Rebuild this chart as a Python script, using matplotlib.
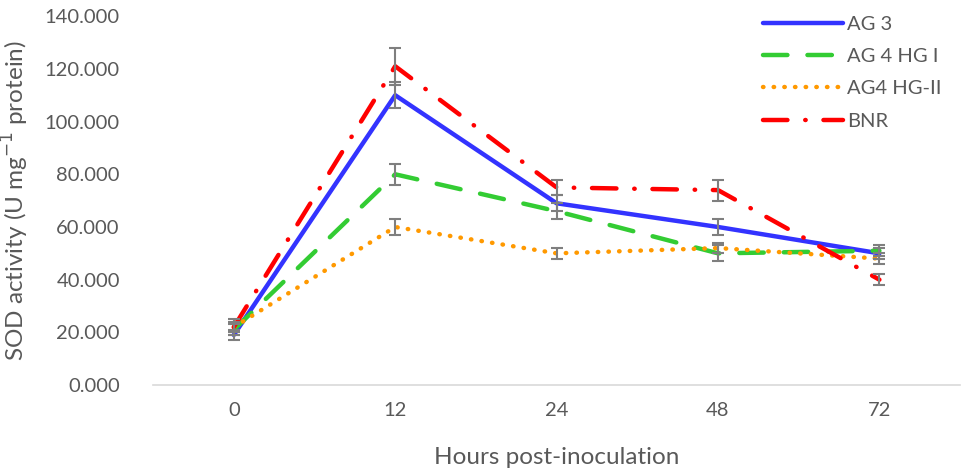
import matplotlib
matplotlib.use("Agg")
import matplotlib.pyplot as plt
from matplotlib.ticker import FormatStrFormatter

plt.rcParams.update({"font.family": ["Lato", "DejaVu Sans"]})

hours = ["0", "12", "24", "48", "72"]
ag3 = [19, 110, 69, 60, 50]
ag3_err = [2, 5, 3, 3, 2]
ag4_hg1 = [21, 80, 66, 50, 51]
ag4_hg1_err = [2, 4, 3, 3, 2]
ag4_hg2 = [22, 60, 50, 52, 48]
ag4_hg2_err = [2, 3, 2, 2, 2]
bnr = [22, 121, 75, 74, 40]
bnr_err = [3, 7, 3, 4, 2]

TEXT = "#595959"

fig = plt.figure(figsize=(9.63, 4.76), dpi=100)
ax = fig.add_axes([0.159, 0.191, 0.838, 0.775])
x = list(range(len(hours)))

series = [
    (ag3, ag3_err, "AG 3", "#3333FF", "-"),
    (ag4_hg1, ag4_hg1_err, "AG 4 HG I", "#33CC33", (0, (5.5, 4.5))),
    (ag4_hg2, ag4_hg2_err, "AG4 HG-II", "#FF9900", (0, (0.1, 2.3))),
    (bnr, bnr_err, "BNR", "#FF0000", (0, (5.5, 4, 0.1, 4))),
]
for vals, err, label, color, ls in series:
    ax.plot(x, vals, color=color, linestyle=ls, lw=3.2, label=label,
            solid_capstyle="round", dash_capstyle="round", zorder=2)
    ax.errorbar(x, vals, yerr=err, fmt="none", ecolor="#7F7F7F",
                elinewidth=1.5, capsize=4, capthick=1.5, zorder=3)

ax.set_xlim(-0.5, 4.5)
ax.set_ylim(0, 140)
ax.set_yticks(range(0, 141, 20))
ax.yaxis.set_major_formatter(FormatStrFormatter("%.3f"))
ax.set_xticks(x)
ax.set_xticklabels(hours)
for s in ["top", "right", "left"]:
    ax.spines[s].set_visible(False)
ax.spines["bottom"].set_color("#D9D9D9")
ax.spines["bottom"].set_linewidth(1.2)
ax.tick_params(axis="both", length=0, labelsize=14.5, labelcolor=TEXT)
ax.tick_params(axis="y", pad=24)
ax.tick_params(axis="x", pad=12)

ax.set_xlabel("Hours post-inoculation", fontsize=17.5, color=TEXT, labelpad=20)
ax.set_ylabel("SOD activity (U mg$^{-1}$ protein)", fontsize=17.5, color=TEXT,
              labelpad=10)

leg = ax.legend(loc="upper right", frameon=False, fontsize=14.5,
                handlelength=4.0, labelspacing=0.75, handletextpad=0.2,
                bbox_to_anchor=(1.0, 1.05))
for t in leg.get_texts():
    t.set_color(TEXT)

fig.savefig("out.png", dpi=100)
